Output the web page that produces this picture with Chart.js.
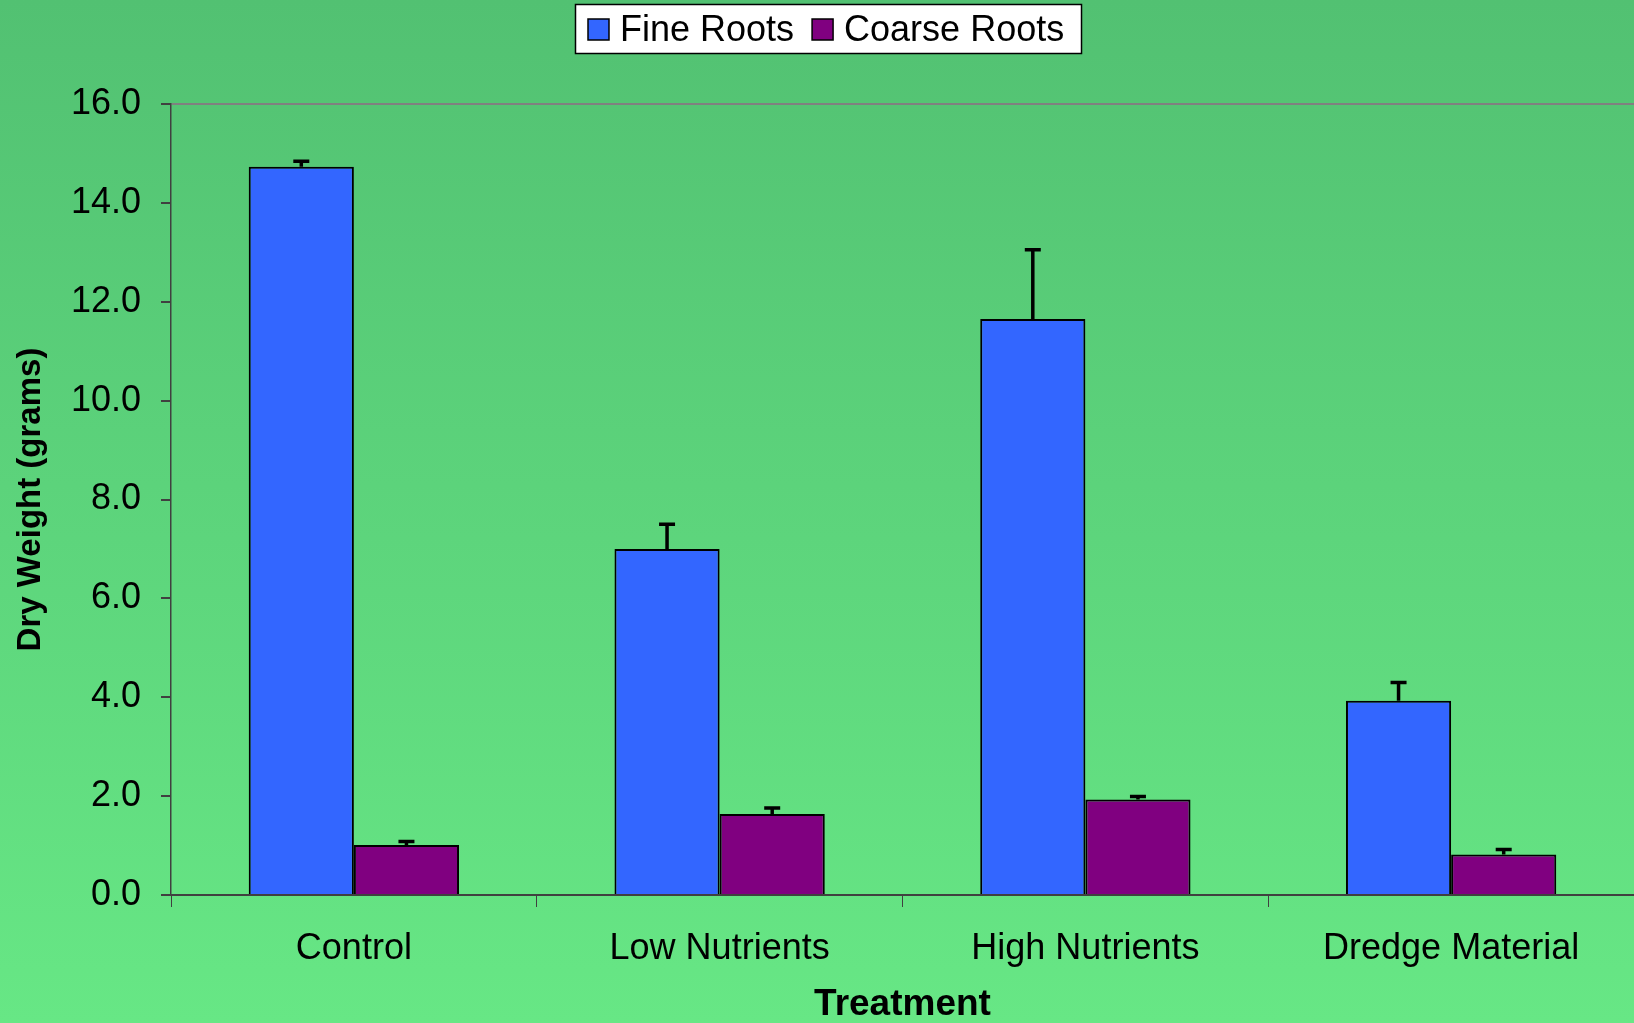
<!DOCTYPE html>
<html>
<head>
    <meta charset="utf-8">
    <script src="https://cdn.jsdelivr.net/npm/chart.js"></script>
    <style>
        html, body {
            margin: 0;
            padding: 0;
            overflow: hidden;
        }
        #chart {
            display: block;
        }
    </style>
</head>
<body>
    <canvas id="chart" width="1634" height="1023"></canvas>

    <script>
        // data
        const treatments = ['Control', 'Low Nutrients', 'High Nutrients', 'Dredge Material'];
        const fineRoots = [14.73, 7.0, 11.65, 3.93];
        const coarseRoots = [1.01, 1.64, 1.93, 0.82];
        const fineErr = [0.11, 0.50, 1.40, 0.37];
        const coarseErr = [0.07, 0.12, 0.06, 0.10];
        const yTicks = [0, 2, 4, 6, 8, 10, 12, 14, 16];

        const FONT = "'Liberation Sans', Arial, sans-serif";

        // green gradient background
        const backdrop = {
            id: 'backdrop',
            beforeDraw(chart) {
                const ctx = chart.ctx;
                const g = ctx.createLinearGradient(0, 0, 0, chart.height);
                g.addColorStop(0, '#52c172');
                g.addColorStop(1, '#67e785');
                ctx.save();
                ctx.fillStyle = g;
                ctx.fillRect(0, 0, chart.width, chart.height);
                ctx.restore();
            }
        };

        // boxed legend across the top, built from the datasets
        const boxLegend = {
            id: 'boxLegend',
            afterDraw(chart) {
                const ctx = chart.ctx;
                ctx.save();
                ctx.fillStyle = '#ffffff';
                ctx.strokeStyle = '#000000';
                ctx.lineWidth = 1.5;
                ctx.fillRect(575.5, 4.5, 506, 49);
                ctx.strokeRect(575.5, 4.5, 506, 49);

                ctx.font = '36px ' + FONT;
                ctx.textBaseline = 'middle';
                let x = 588;
                chart.data.datasets.forEach(ds => {
                    ctx.fillStyle = ds.backgroundColor;
                    ctx.fillRect(x, 19, 21, 21);
                    ctx.strokeStyle = '#000000';
                    ctx.lineWidth = 1.5;
                    ctx.strokeRect(x, 19, 21, 21);
                    ctx.fillStyle = '#000000';
                    ctx.fillText(ds.label, x + 32, 31);
                    x += 32 + ctx.measureText(ds.label).width + 18;
                });
                ctx.restore();
            }
        };

        // one-sided error bars with caps
        const errorBars = {
            id: 'errorBars',
            afterDatasetsDraw(chart) {
                const ctx = chart.ctx;
                const y = chart.scales.y;
                const errs = [fineErr, coarseErr];
                ctx.save();
                ctx.strokeStyle = '#000000';
                ctx.lineWidth = 3.5;
                chart.data.datasets.forEach((ds, di) => {
                    const meta = chart.getDatasetMeta(di);
                    meta.data.forEach((bar, i) => {
                        const top = y.getPixelForValue(ds.data[i] + errs[di][i]);
                        const base = y.getPixelForValue(ds.data[i]);
                        ctx.beginPath();
                        ctx.moveTo(bar.x, base);
                        ctx.lineTo(bar.x, top);
                        ctx.moveTo(bar.x - 8, top);
                        ctx.lineTo(bar.x + 8, top);
                        ctx.stroke();
                    });
                });
                ctx.restore();
            }
        };

        new Chart(document.getElementById('chart'), {
            type: 'bar',
            data: {
                labels: treatments,
                datasets: [{
                    label: 'Fine Roots',
                    data: fineRoots,
                    backgroundColor: '#3366ff',
                    borderColor: '#000000',
                    borderWidth: 2
                }, {
                    label: 'Coarse Roots',
                    data: coarseRoots,
                    backgroundColor: '#800080',
                    borderColor: '#000000',
                    borderWidth: 2
                }]
            },
            options: {
                responsive: false,
                animation: false,
                layout: { padding: { left: 0, right: 0, top: 104, bottom: 0 } },
                categoryPercentage: 0.575,
                barPercentage: 1.0,
                plugins: {
                    tooltip: { enabled: false },
                    legend: { display: false }
                },
                scales: {
                    x: {
                        grid: {
                            offset: true,
                            drawOnChartArea: false,
                            tickLength: 12,
                            tickColor: '#404040'
                        },
                        border: { color: '#404040', width: 2 },
                        ticks: {
                            font: { family: FONT, size: 36 },
                            color: '#000000',
                            padding: 20
                        },
                        title: {
                            display: true,
                            text: 'Treatment',
                            font: { family: FONT, size: 37, weight: 'bold', lineHeight: 1 },
                            color: '#000000',
                            padding: { top: 0, bottom: 0 }
                        },
                        afterFit(scale) { scale.height = 128; }
                    },
                    y: {
                        min: 0,
                        max: 16,
                        afterBuildTicks(scale) {
                            scale.ticks = yTicks.map(v => ({ value: v }));
                        },
                        grid: {
                            color: ctx => ctx.tick && ctx.tick.value === 16 ? '#808080' : 'transparent',
                            lineWidth: 2,
                            tickLength: 10,
                            tickColor: '#404040'
                        },
                        border: { color: '#404040', width: 1.5 },
                        ticks: {
                            font: { family: FONT, size: 36 },
                            color: '#000000',
                            padding: 20,
                            callback: v => v.toFixed(1)
                        },
                        title: {
                            display: true,
                            text: 'Dry Weight (grams)',
                            font: { family: FONT, size: 33, weight: 'bold' },
                            color: '#000000',
                            padding: { top: 11, bottom: 0 }
                        },
                        afterFit(scale) { scale.width = 171; }
                    }
                }
            },
            plugins: [backdrop, errorBars, boxLegend]
        });
    </script>
</body>
</html>
